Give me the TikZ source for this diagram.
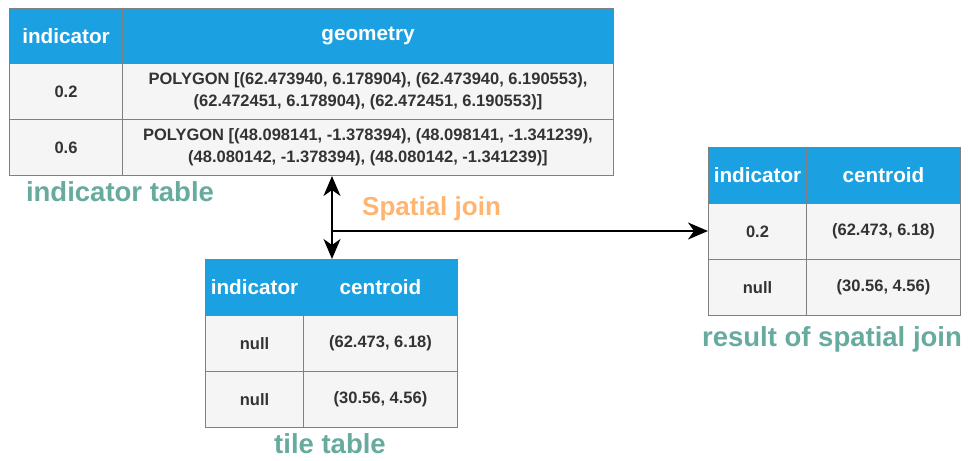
\documentclass[tikz,border=0pt]{standalone}
\usepackage{fontspec}
\setmainfont{Liberation Sans}
\usetikzlibrary{arrows.meta}
\definecolor{hdrblue}{HTML}{1BA1E2}
\definecolor{cellgray}{HTML}{F5F5F5}
\definecolor{cellline}{HTML}{808080}
\definecolor{celltext}{HTML}{333333}
\definecolor{labelteal}{HTML}{67AB9F}
\definecolor{joinorange}{HTML}{FFB570}

\begin{document}
\begin{tikzpicture}[x=1pt,y=-1pt,
  cellbase/.style={draw=cellline, line width=1pt, anchor=north west, inner sep=0pt, align=center},
  hdr/.style={cellbase, fill=hdrblue, text=white, font=\bfseries\fontsize{20.7}{24}\selectfont},
  cell/.style={cellbase, fill=cellgray, text=celltext, font=\bfseries\fontsize{16.5}{22}\selectfont},
  sz/.style 2 args={minimum width=#1pt, minimum height=#2pt},
  caption/.style={text=labelteal, font=\bfseries\fontsize{27.5}{30}\selectfont, anchor=base, inner sep=0pt},
  joinlabel/.style={text=joinorange, font=\bfseries\fontsize{26}{30}\selectfont, anchor=base west, inner sep=0pt},
  arr/.style={line width=2.2pt, black},
]
% canvas
\fill[white] (0,0) rectangle (968,460);
\useasboundingbox (0,0) rectangle (968,460);

% indicator table
\node[hdr, sz={113}{55}] (ih1) at (9,8) {indicator};
\node[hdr, sz={491}{55}] (ih2) at (122,8) {geometry};
\node[cell, sz={113}{56}] (ia1) at (9,63) {0.2};
\node[cell, sz={491}{56}] (ib1) at (122,63) {POLYGON [(62.473940, 6.178904), (62.473940, 6.190553),\\(62.472451, 6.178904), (62.472451, 6.190553)]};
\node[cell, sz={113}{56}] (ia2) at (9,119) {0.6};
\node[cell, sz={491}{56}] (ib2) at (122,119) {POLYGON [(48.098141, -1.378394), (48.098141, -1.341239),\\(48.080142, -1.378394), (48.080142, -1.341239)]};
\node[caption] (capind) at (120,201) {indicator table};

% tile table
\node[hdr, sz={98}{56}] (th1) at (205,259) {indicator};
\node[hdr, sz={154}{56}] (th2) at (303,259) {centroid};
\node[cell, sz={98}{56}] (ta1) at (205,315) {null};
\node[cell, sz={154}{56}] (tb1) at (303,315) {(62.473, 6.18)};
\node[cell, sz={98}{56}] (ta2) at (205,371) {null};
\node[cell, sz={154}{56}] (tb2) at (303,371) {(30.56, 4.56)};
\node[caption] (captile) at (330,453) {tile table};

% result table
\node[hdr, sz={98}{56}] (rh1) at (708,147) {indicator};
\node[hdr, sz={154}{56}] (rh2) at (806,147) {centroid};
\node[cell, sz={98}{56}] (ra1) at (708,203) {0.2};
\node[cell, sz={154}{56}] (rb1) at (806,203) {(62.473, 6.18)};
\node[cell, sz={98}{56}] (ra2) at (708,259) {null};
\node[cell, sz={154}{56}] (rb2) at (806,259) {(30.56, 4.56)};
\node[caption] (capres) at (832,346) {result of spatial join};

% spatial join connectors
\coordinate (jx) at (332,231);
\draw[arr, {Stealth[length=20pt,width=17pt,inset=6pt]}-{Stealth[length=20pt,width=17pt,inset=6pt]}] (jx |- ib2.south) -- (jx |- th2.north);
\draw[arr, -{Stealth[length=20pt,width=17pt,inset=6pt]}] (jx) -- (jx -| ra1.west);
\node[joinlabel] (joinlbl) at (362,215) {Spatial join};
\end{tikzpicture}
\end{document}
